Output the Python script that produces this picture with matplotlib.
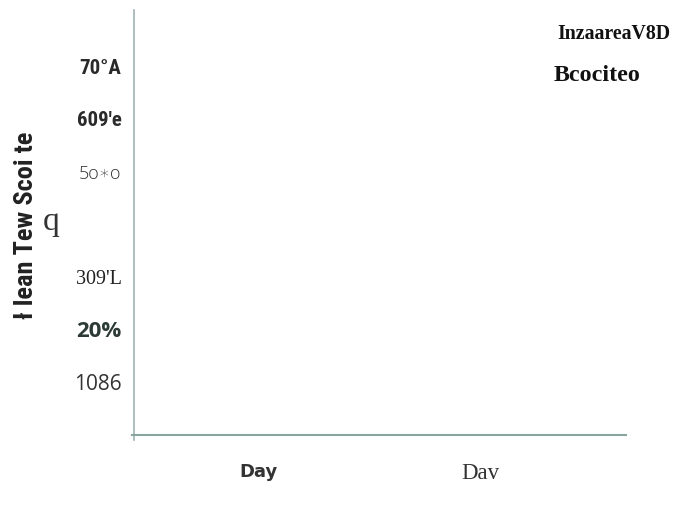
import matplotlib.pyplot as plt
from matplotlib import font_manager
from matplotlib.transforms import ScaledTranslation

# chart values
categories = ["Day", "Dav"]
y_values = [10, 20, 30, 40, 50, 60, 70]
y_labels = ["1086", "20%", "309'L", "q", "5o\u2217o", "609'e", "70\u00b0A"]
y_title = "\u0142 lean Tew Scoi te"
notes = ["InzaareaV8D", "Bcociteo"]

# pick a narrow bold sans if one is around
names = {f.name for f in font_manager.fontManager.ttflist}
narrow_name = None
for n in ["Liberation Sans Narrow", "DejaVu Sans Condensed", "Roboto Condensed",
          "Open Sans Condensed", "Noto Sans Condensed"]:
    if n in names:
        narrow_name = n
        break
narrow_stretch = "normal"
if narrow_name is None:
    cond = [f for f in font_manager.fontManager.ttflist
            if f.name == "DejaVu Sans" and str(f.stretch) in ("condensed", "semi-condensed")]
    if cond:
        narrow_name = "DejaVu Sans"
        narrow_stretch = "condensed"
    else:
        narrow_name = "Liberation Sans"
narrow = [narrow_name, "DejaVu Sans"]
serif = ["Liberation Serif", "DejaVu Serif"]
is_libsans = narrow_name == "Liberation Sans"

fig = plt.figure(figsize=(6.87, 5.08), dpi=100)
ax = fig.add_axes([134 / 687, 1 - 440 / 508, (626 - 134) / 687, (440 - 10) / 508])

ax.set_xlim(-0.559, 1.658)
ax.set_ylim(-1.0, 80.7)

ax.spines["top"].set_visible(False)
ax.spines["right"].set_visible(False)
ax.spines["left"].set_color("#9fb3b0")
ax.spines["bottom"].set_color("#8aa5a0")
ax.spines["left"].set_linewidth(1.2)
ax.spines["bottom"].set_linewidth(1.5)
ax.spines["bottom"].set_position(("data", 0))
ax.spines["bottom"].set_bounds(-0.569, 1.658)

# x ticks
ax.set_xticks(range(len(categories)))
ax.set_xticklabels(categories)
ax.tick_params(axis="x", length=0, pad=20)
xfonts = [
    dict(family=["DejaVu Sans"], weight="bold", size=13, color="#333333"),
    dict(family=serif, size=16.5, color="#333333"),
]
for lab, f in zip(ax.get_xticklabels(), xfonts):
    lab.set_fontfamily(f["family"])
    lab.set_fontsize(f["size"])
    lab.set_fontweight(f.get("weight", "normal"))
    lab.set_color(f["color"])

# y ticks
ax.set_yticks(y_values)
ax.set_yticklabels(y_labels)
ax.tick_params(axis="y", length=0, pad=9)
nsize = 12.5 if is_libsans else 15
yfonts = [
    dict(family=["Open Sans", "DejaVu Sans"], size=15, color="#333333"),
    dict(family=["Open Sans", "DejaVu Sans"], size=16, weight="bold", color="#2d3b36"),
    dict(family=serif, size=14.5, color="#222222"),
    dict(family=serif, size=24, color="#333333"),
    dict(family=["Open Sans", "DejaVu Sans"], size=13, weight="light", color="#333333"),
    dict(family=narrow, size=nsize, weight="bold", color="#2a2a2a"),
    dict(family=narrow, size=nsize, weight="bold", color="#2a2a2a"),
]
for lab, f in zip(ax.get_yticklabels(), yfonts):
    lab.set_fontfamily(f["family"])
    lab.set_fontsize(f["size"])
    lab.set_fontweight(f.get("weight", "normal"))
    lab.set_color(f["color"])
    if f["family"] is narrow:
        lab.set_fontstretch(narrow_stretch)
qlab = ax.get_yticklabels()[3]
qlab.set_x(-0.127)
qlab.set_transform(qlab.get_transform() + ScaledTranslation(0, 6 / 100, fig.dpi_scale_trans))

ax.set_ylabel(y_title, family=narrow, fontsize=16 if is_libsans else 19,
              fontweight="bold", fontstretch=narrow_stretch, color="#222222")
ax.yaxis.set_label_coords(-0.195, 0.5)

# top-right notes
ax.text(0.86, 0.945, notes[0], transform=ax.transAxes, family=serif,
        fontsize=14.3, fontweight="bold", color="#111111", va="center")
ax.text(0.853, 0.848, notes[1], transform=ax.transAxes, family=serif,
        fontsize=17.3, fontweight="bold", color="#111111", va="center")

fig.savefig("out.png", dpi=100)
